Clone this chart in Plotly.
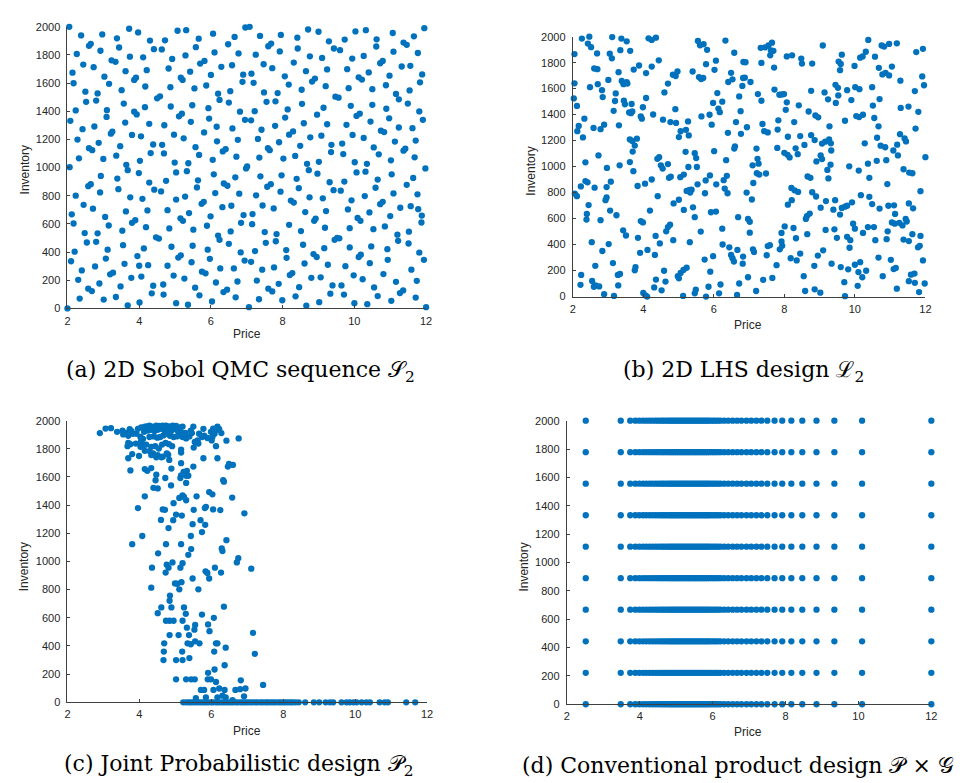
import plotly.graph_objects as go

# ---------------- data ----------------
sobol_pts = [
(2.05,2000),(2.38,1939),(2.97,1946),(3.72,1986),(3.97,1960),(3.38,1918),(2.26,1807),(2.60,1865),(2.65,1879),(2.92,1830),(3.44,1853),(4.30,1902),(4.41,1841),(4.63,1839),(4.72,1904),(5.07,1972),(5.31,1976),(5.66,1916),(5.58,1855),(6.06,1951),(6.48,1876),(6.66,1928),(6.77,1811),(6.10,1818),(5.29,1797),(4.92,1772),(3.74,1788),(4.11,1783),(3.23,1762),(3.34,1751),(2.44,1732),(2.73,1713),(2.14,1674),(2.17,1599),(3.03,1646),(3.16,1595),(3.62,1685),(3.86,1623),(3.91,1639),(4.21,1692),(4.17,1576),(4.50,1492),(4.58,1506),(4.82,1704),(4.87,1571),(5.16,1639),(5.21,1623),(5.42,1681),(5.54,1562),(5.70,1739),(5.82,1758),(5.87,1583),(6.00,1658),(6.29,1716),(6.59,1727),(6.90,1660),(6.88,1609),
(2.50,1539),(2.52,1467),(2.84,1527),(2.80,1476),(3.51,1550),(3.57,1455),(2.23,1406),(3.10,1408),(3.86,1397),(3.93,1378),(4.16,1429),(4.88,1434),(5.48,1443),(5.93,1422),(6.20,1525),(6.24,1481),(6.54,1543),(6.50,1462),(6.81,1397),(6.95,1339),
(2.08,1332),(3.09,1360),(3.61,1320),(4.28,1311),(5.11,1364),(5.19,1383),(5.24,1208),(5.44,1325),(5.95,1348),(6.16,1290),(6.60,1278),(2.42,1273),(2.75,1292),(2.28,1199),(2.87,1176),(3.21,1241),(3.25,1255),(3.47,1152),(3.80,1232),(4.05,1222),(4.39,1164),(4.64,1162),(4.70,1301),(4.97,1234),(5.37,1031),(5.57,1145),(5.81,1250),(6.17,1187),(6.33,1115),(6.41,1131),(6.75,1197),
(3.00,1062),(3.36,1085),(2.32,1066),(2.60,1138),(2.69,1124),(4.02,1048),(4.32,1103),(4.69,1101),(4.99,1036),(5.67,1090),(6.05,1055),(6.71,1078),(6.98,994),(2.06,1003),(2.93,941),(3.39,922),(3.68,982),(3.64,1020),(3.99,961),(4.28,894),(4.42,843),(4.61,831),(4.75,906),(5.03,966),(5.33,975),(5.61,859),(5.64,910),(6.08,952),(6.36,887),(6.46,871),(6.68,931),(7.01,1008),
(2.23,801),(2.58,868),(2.65,882),(2.91,824),(3.42,847),(3.75,789),(4.09,778),(4.79,698),(5.03,773),(5.28,794),(5.74,743),(5.80,757),(6.12,819),(6.32,719),(6.57,729),(6.79,815),
(2.12,668),(2.17,603),(2.45,736),(2.71,708),(3.05,650),(3.15,589),(3.63,689),(3.80,608),(3.89,626),(4.23,696),(4.19,577),(4.84,568),(5.15,640),(5.22,622),(5.39,677),(5.51,559),(5.89,587),(5.99,654),(6.20,517),(6.24,487),(6.55,547),(6.84,608),(6.91,663),
(2.20,403),(2.48,535),(2.54,468),(2.84,533),(2.80,473),(3.12,417),(3.53,552),(3.55,449),(3.95,372),(4.13,426),(4.47,505),(4.55,496),(4.90,438),(5.09,361),(5.16,377),(5.49,445),(5.91,417),(5.97,352),(6.50,459),(6.83,398),(6.94,340),
(2.10,335),(2.40,270),(2.77,298),(3.07,354),(3.59,317),(4.00,303),(4.25,307),(4.39,161),(4.79,303),(4.96,233),(5.26,212),(5.46,328),(5.56,147),(5.75,261),(5.85,249),(6.26,284),(6.64,284),(6.74,191),
(2.30,203),(2.58,140),(2.68,123),(2.89,177),(3.19,242),(3.27,254),(3.48,156),(3.78,217),(4.06,226),(4.35,107),(4.67,170),(5.68,93),(6.14,184),(6.35,116),(6.45,133),(6.69,79),
(2.34,70),(3.01,63),(3.35,81),(3.68,21),(4.01,42),(4.68,98),(5.03,37),(5.36,26),(6.03,49),(2.00,0),(7.06,9),
(6.96,1995),(7.08,2000),(7.37,1935),(7.95,1942),(8.41,1923),(8.71,1981),(9.00,1965),(9.29,1897),(9.43,1846),(9.60,1834),(9.73,1909),(10.03,1967),(10.32,1976),(10.62,1911),(10.61,1860),(11.07,1956),(11.37,1888),(11.46,1872),(11.66,1932),(11.95,1990),
(7.25,1802),(7.47,1734),(7.60,1862),(7.68,1881),(7.92,1825),(7.71,1706),(8.31,1746),(8.42,1846),(8.76,1790),(8.65,1685),(9.10,1779),(9.24,1697),(9.80,1699),(9.94,1774),(10.26,1793),(10.40,1676),(10.12,1641),(10.21,1625),(10.72,1741),(10.79,1758),(11.09,1823),(11.32,1718),(11.56,1723),(11.77,1814),(11.89,1662),
(7.13,1667),(7.19,1602),(8.06,1648),(8.17,1590),(8.53,1553),(8.82,1611),(8.90,1632),(9.20,1578),(9.84,1564),(10.50,1557),(10.88,1585),(10.98,1653),(11.16,1523),(11.24,1485),(11.54,1548),(11.83,1606),
(7.48,1534),(7.55,1467),(7.80,1471),(7.86,1529),(8.54,1453),(9.14,1425),(8.96,1376),(9.47,1504),(9.56,1497),(9.90,1439),(10.50,1446),(10.89,1418),(10.97,1350),(11.24,1285),(11.49,1455),(11.81,1399),(11.91,1339),
(7.22,1401),(7.12,1336),(7.79,1297),(8.14,1413),(8.07,1355),(8.18,1234),(8.29,1257),(8.59,1315),(9.24,1308),(9.78,1304),(10.06,1367),(10.15,1383),(10.45,1327),(10.74,1262),(10.83,1252),(11.13,1185),(11.62,1280),(11.71,1192),
(7.41,1269),(7.31,1204),(7.90,1180),(7.64,1124),(7.59,1138),(8.02,1064),(8.35,1083),(8.49,1155),(8.77,1215),(9.08,1227),(9.36,1162),(9.35,1110),(9.66,1171),(9.69,1096),(9.95,1232),(10.26,1211),(10.54,1143),(10.68,1094),(11.02,1052),(11.37,1120),(11.42,1134),(11.68,1073),
(7.35,1071),(7.38,938),(7.97,945),(8.39,920),(8.45,854),(8.68,1027),(8.73,982),(9.01,1041),(8.97,957),(9.31,896),(9.42,840),(9.62,836),(9.72,901),(10.01,1038),(10.06,966),(10.31,971),(10.35,1027),(10.65,915),(10.59,857),(11.04,952),(11.09,817),(11.46,878),(11.64,927),(11.76,810),(11.88,659),(11.87,610),(11.98,994),
(7.26,803),(7.44,731),(7.57,864),(7.67,882),(7.75,710),(7.94,829),(8.23,766),(8.31,752),(8.63,684),(8.75,789),(9.12,782),(9.21,691),(8.88,622),(8.92,638),(9.82,703),(9.92,768),(10.09,643),(10.17,622),(10.29,798),(10.42,682),(10.72,740),(10.79,757),(11.00,656),(11.28,715),(11.57,726),(11.78,705),
(7.16,670),(7.15,598),(7.50,542),(7.53,466),(7.83,528),(7.81,477),(8.18,594),(8.51,549),(8.57,452),(9.18,573),(9.16,428),(9.45,487),(9.52,501),(9.58,498),(9.87,570),(9.87,433),(10.12,365),(10.18,382),(10.43,321),(10.53,563),(10.47,440),(10.85,582),(10.92,421),(10.93,345),(11.20,524),(11.22,480),(11.52,545),(11.51,461),(11.81,396),(11.94,345),
(7.23,407),(7.12,331),(7.43,275),(7.76,291),(8.10,414),(8.11,359),(8.20,237),(8.27,251),(8.61,319),(8.86,386),(8.95,365),(8.80,217),(9.06,221),(9.26,310),(9.75,300),(9.98,235),(10.23,207),(10.81,244),(11.16,189),(11.27,109),(11.36,128),(11.59,275),(11.74,196),
(7.28,198),(7.60,140),(7.71,121),(7.89,175),(8.46,151),(8.36,86),(7.99,58),(7.34,65),(8.66,19),(9.02,44),(9.33,105),(9.39,163),(9.64,163),(9.71,98),(10.00,37),(10.36,30),(10.55,149),(10.65,88),(11.03,54),(11.71,77),(12.00,9),
]

lhs_pts = [
(2.05,1866),(2.05,1641),(2.03,1525),(2.12,1467),(2.17,1313),(2.13,1273),(2.29,1225),(2.33,1369),(2.26,1985),(2.47,2000),(2.43,1947),(2.52,1919),(2.69,1871),(2.49,1611),(2.61,1755),(2.70,1750),(2.71,1634),(2.83,1588),(2.85,1535),(2.59,1298),(2.79,1288),(2.89,1323),(3.12,1997),(3.05,1869),(3.11,1833),(3.01,1667),(3.22,1563),(3.20,1505),(3.30,1727),(3.16,1429),(3.31,1318),(3.38,1985),(3.53,1964),(3.35,1896),(3.63,1891),(3.39,1659),(3.44,1634),(3.53,1649),(3.55,1639),(3.45,1507),(3.48,1480),(3.67,1482),(3.60,1417),(3.69,1424),(3.65,1411),(3.73,1747),(3.88,1778),(4.08,1720),(4.24,1770),(4.15,1987),(4.24,1975),(4.36,1992),(4.44,1818),(4.08,1528),(3.99,1457),(3.93,1386),(3.96,1369),(4.28,1401),(4.60,1571),(4.70,1639),(4.56,1361),(4.77,1343),(4.84,1707),(4.92,1697),(4.97,1732),(4.91,1442),(4.93,1336),(5.06,1273),(5.01,1227),(5.21,1283),(5.27,1348),(5.29,1240),(5.40,1732),(5.55,1967),(5.61,1934),(5.71,1942),(5.81,1899),(5.78,1788),(5.58,1689),(5.70,1682),(5.64,1674),(5.65,1386),(5.88,1399),(5.94,1323),(5.98,1490),(6.06,1815),(6.02,1745),(6.10,1566),(6.13,1447),(6.17,1419),(6.24,1500),(6.33,1970),(6.40,1260),(6.41,1651),(6.53,1672),(6.49,1722),(6.58,1876),(6.63,1343),(6.76,1427),(6.77,1252),(6.60,1156),(6.58,1139),(6.72,1540),(6.84,1805),(6.83,1682),(6.81,1621),
(3.69,1197),(3.82,1215),(3.76,1162),(3.70,1116),(3.62,1035),(3.72,965),(3.84,851),(4.05,869),(4.40,1060),(4.45,1073),(4.50,1010),(4.55,985),(4.24,901),(4.41,773),(4.19,662),(3.93,581),(3.99,571),(3.85,452),(3.91,336),(4.12,359),(4.33,321),(4.47,409),(4.35,467),(4.70,535),(4.76,553),(4.65,502),(4.85,434),(4.73,914),(4.78,922),(4.70,1020),(4.86,717),(5.01,745),(5.05,919),(5.15,939),(5.28,997),(5.23,813),(5.31,821),(5.37,823),(5.33,800),(5.15,667),(5.41,687),(5.46,611),(5.32,419),(5.20,1114),(5.46,1103),(5.50,1066),(5.52,997),(5.54,864),(5.75,795),(5.77,894),(5.89,932),(6.01,1119),(6.07,864),(6.28,896),(6.37,929),(6.31,831),(6.39,795),(5.63,500),(5.92,649),(6.06,654),(6.24,523),(5.74,285),(5.98,311),(5.90,192),(6.25,401),(6.44,379),(6.49,321),(6.53,295),(6.57,270),(6.67,359),(6.83,308),(6.82,253),(6.35,1050),(6.69,611),(6.72,101),(6.66,13),(6.19,93),(6.15,25),(5.85,76),(5.78,0),(5.49,53),(5.46,25),(5.13,5),(5.23,222),(5.14,205),(5.06,182),(4.98,157),(5.01,141),(4.63,116),(4.59,199),(4.52,48),(4.36,131),(4.31,71),(4.06,10),(4.00,28),(4.11,0),(3.78,227),(3.76,202),(3.28,167),(3.29,86),(3.17,5),(2.89,18),(2.75,78),(2.65,86),(2.60,76),(2.55,121),(2.64,237),(2.54,419),(2.24,167),(2.22,91),(2.40,636),(2.39,593),(2.45,704),(2.79,588),(2.84,351),(3.02,404),(3.06,662),(3.24,626),(3.14,258),(3.34,174),(3.43,510),(3.51,470),(2.23,848),(2.36,889),(2.42,879),(2.62,838),(2.96,843),(3.08,884),(2.96,763),(2.93,742),(2.36,1033),(2.73,1086),(2.97,990),(3.33,1010),(2.06,793),(2.12,773),(3.62,1209),
(6.90,1803),(6.88,1684),(7.04,1651),(6.94,1303),(7.21,1139),(7.24,1060),(7.27,1023),(7.10,1010),(7.22,949),(7.29,939),(7.48,947),(7.12,874),(6.93,800),(7.08,747),(6.97,598),(7.02,576),(7.02,492),(7.11,364),(7.14,343),(6.97,149),(7.20,43),(7.33,1914),(7.45,1917),(7.55,1932),(7.65,1954),(7.35,1798),(7.60,1856),(7.62,1894),(7.69,1891),(7.71,1762),(7.25,1558),(7.35,1507),(7.72,1593),(7.86,1553),(7.93,1555),(7.99,1558),(8.07,1495),(8.04,1437),(7.38,1328),(7.43,1273),(7.53,1263),(7.83,1356),(7.81,1285),(8.10,1230),(8.28,1343),(8.41,1472),(7.80,1144),(8.00,1106),(8.09,1091),(8.15,1071),(8.32,1141),(8.38,1096),(8.45,1235),(8.57,1167),(8.76,1242),(8.86,1204),(8.07,1848),(8.22,1856),(8.48,1831),(8.50,1793),(8.79,1793),(8.76,1583),(8.69,1424),(8.88,1394),(8.96,1379),(9.28,1310),(9.07,1177),(9.16,1192),(9.27,1209),(9.32,1179),(9.33,1124),(9.03,1086),(9.07,1058),(8.91,1040),(9.22,975),(9.25,909),(9.31,1015),(8.66,924),(8.74,914),(8.20,836),(8.29,818),(8.39,805),(8.21,742),(8.10,707),(8.79,803),(8.90,770),(9.18,735),(9.03,684),(8.61,598),(8.64,619),(8.72,639),(9.39,669),(9.44,742),(9.58,631),(9.63,682),(9.72,692),(9.78,699),(9.92,725),(8.65,480),(8.26,528),(8.33,449),(8.01,540),(7.92,490),(7.92,424),(7.94,391),(7.87,364),(7.53,389),(7.59,396),(7.50,318),(7.78,242),(7.66,144),(7.40,129),(8.18,295),(8.35,278),(8.45,331),(8.55,157),(8.59,43),(8.85,237),(8.95,316),(9.10,356),(8.86,56),(9.02,30),(9.17,513),(9.42,518),(9.49,452),(9.34,253),(9.60,227),(9.70,111),(9.72,3),(9.81,210),(9.78,460),(9.87,434),(9.85,376),(9.95,561),(10.00,523),(10.23,490),(10.37,535),(10.54,535),(10.00,245),(10.10,189),(10.21,149),(10.15,265),(10.08,83),(10.32,199),(10.67,300),(10.79,157),(11.02,283),(11.10,212),(11.16,220),(11.19,61),(10.90,442),(10.93,502),(11.05,571),(11.13,561),(11.26,568),(11.35,548),(11.44,598),(11.47,578),(10.95,699),(11.11,702),(11.14,636),(10.41,768),(10.49,712),(10.70,677),(10.58,434),(11.38,439),(11.53,427),(11.63,480),(11.86,467),(11.79,379),(11.84,391),(11.93,278),(11.59,169),(11.69,177),(11.53,119),(11.70,106),(11.98,101),(11.82,35),(11.53,717),(11.65,679),(11.86,811),(12.00,1073),(11.54,954),(11.63,949),(11.38,980),(10.92,866),(11.09,1124),(11.22,1086),(11.20,1169),(11.41,1217),(11.45,1194),(11.28,1250),(11.72,1293),(11.80,1422),(11.52,1462),(11.30,1452),(11.96,1626),(11.91,1694),(11.70,1581),(11.74,1881),(11.93,1906),(11.29,1661),(11.05,1770),(10.97,1702),(10.87,1722),(10.78,1709),(10.83,1924),(10.76,1932),(10.97,1944),(11.19,1949),(10.68,1760),(10.38,1975),(10.31,1884),(10.15,1838),(10.22,1848),(10.57,1846),(10.49,1611),(10.70,1520),(10.67,1310),(10.55,1374),(10.63,1222),(10.73,1161),(10.86,1149),(10.89,1050),(10.62,1045),(10.37,1023),(10.41,914),(10.11,970),(10.17,780),(9.84,1002),(10.28,1179),(10.04,1389),(10.12,1381),(10.23,1399),(10.51,1470),(9.72,1353),(9.90,1512),(9.78,1588),(10.01,1611),(10.13,1596),(9.99,1775),(9.54,1808),(9.60,1790),(9.63,1861),(9.58,1742),(9.45,1629),(9.52,1606),(9.14,1571),(9.24,1518),(9.53,1548),(9.46,1490),(9.09,1932),
]

joint_pts = [
(2.90,1912),(3.06,1944),(3.21,1947),(3.38,1921),(3.53,1930),(3.62,1914),(3.73,1940),(3.78,1926),(3.55,1902),(3.69,1893),(3.82,1907),
(3.96,1942),(4.05,1953),(4.15,1958),(4.21,1960),(4.28,1965),(4.38,1958),(4.47,1965),(4.56,1963),(4.65,1965),(4.74,1965),(4.84,1960),(4.93,1965),(5.02,1963),(5.11,1953),(5.20,1958),
(3.92,1907),(4.03,1884),(4.13,1921),(4.24,1930),(4.33,1935),(4.42,1926),(4.51,1935),(4.61,1942),(4.70,1930),(4.79,1935),(4.88,1926),(4.97,1940),(5.07,1926),(5.16,1919),
(4.03,1837),(4.10,1870),(4.19,1830),(4.28,1884),(4.40,1888),(4.50,1879),(4.58,1884),(4.67,1895),(4.76,1907),(4.85,1893),(4.95,1884),(5.04,1888),(5.13,1895),
(4.33,1814),(4.44,1819),(4.54,1802),(4.63,1830),(4.73,1842),(4.82,1833),(4.91,1819),
(3.69,1842),(3.67,1819),(3.75,1833),(3.90,1837),(4.03,1814),(4.05,1860),(4.12,1826),
(5.20,1884),(5.30,1874),(5.39,1888),(5.46,1912),(5.50,1958),(5.43,1930),(5.28,1914),
(5.66,1907),(5.74,1884),(5.80,1893),(5.89,1877),(5.78,1942),(6.05,1944),(5.99,1921),(6.09,1907),(6.17,1958),(6.22,1940),(6.28,1912),(6.20,1935),
(5.64,1837),(5.51,1809),(5.62,1860),(5.54,1849),(6.03,1884),(6.01,1860),(6.13,1819),(6.42,1858),(6.76,1874),
(5.16,1795),(5.16,1774),
(4.15,1786),(4.28,1784),(4.38,1767),(4.51,1756),(4.65,1744),(4.76,1767),(4.80,1758),(4.61,1740),(4.33,1756),(4.47,1740),
(3.69,1733),(3.80,1763),(3.99,1749),(3.75,1647),(4.15,1656),(4.22,1644),(4.33,1663),
(4.83,1721),(5.16,1698),(5.50,1674),(5.78,1733),(6.17,1733),(6.49,1693),(6.60,1686),(6.46,1674),
(4.89,1660),(5.16,1612),(5.23,1637),(5.32,1644),(5.30,1609),(5.36,1609),(5.14,1593),
(4.47,1616),(4.45,1577),(4.39,1523),(4.51,1519),(4.72,1593),(4.88,1540),(5.30,1558),(6.33,1577),(6.35,1567),
(5.94,1493),(6.03,1477),(5.59,1463),(5.20,1470),(5.24,1458),(5.30,1435),(5.11,1451),(6.58,1454),
(3.96,1379),(4.15,1463),(4.95,1414),(5.18,1326),(5.02,1333),(4.94,1293),(4.60,1295),(4.65,1370),(4.71,1367),
(5.51,1367),(5.85,1388),(5.82,1379),(6.05,1370),(6.25,1365),(5.70,1293),(5.83,1260),(5.48,1265),(5.74,1209),(5.43,1181),(6.92,1342),
(3.80,1123),(4.08,1181),(4.81,1237),(4.74,1123),(5.16,1123),(4.52,1058),(5.44,1088),(6.29,1093),(6.31,1074),(6.42,1151),
(5.36,1047),(4.92,993),(4.81,956),(5.20,988),(4.76,977),(5.14,956),
(4.35,956),(4.73,921),(5.48,879),(5.89,919),(5.84,930),(5.94,879),(6.10,956),(6.27,921),(6.71,993),(6.75,1023),(7.11,949),
(4.99,844),(5.05,842),(5.17,853),(5.11,802),(5.64,802),(4.33,814),
(4.85,758),(4.84,721),(4.89,674),(4.61,674),(4.51,633),(5.24,674),(5.29,628),(5.74,623),(6.07,600),(6.35,679),
(4.74,579),(4.84,579),(4.95,579),(5.20,579),
(5.32,530),(5.55,549),(5.53,516),(5.38,477),(5.91,553),(5.95,505),(4.84,477),(5.09,477),
(4.69,419),(5.34,419),(5.43,412),(5.55,433),(5.67,419),(6.13,419),(6.17,419),(6.40,388),(7.16,493),(7.21,344),
(4.68,360),(5.19,360),(6.08,360),(4.67,300),(5.02,300),(5.20,300),(5.39,314),
(6.37,263),(5.91,209),(6.09,233),
(5.02,163),(5.30,163),(5.44,163),(5.54,163),(5.90,163),(5.99,163),(6.13,144),(6.82,156),(7.44,123),
(5.71,88),(5.80,88),(6.06,88),(6.22,98),(6.37,88),(6.67,88),(6.80,93),(6.95,98),
(5.57,30),(5.85,35),(6.17,35),(6.31,47),(6.40,35),(6.91,42),(6.59,16),
]
# prices of the joint-design points that sit at zero inventory
joint_zero_price = [5.22,5.30,5.37,5.43,5.50,5.57,5.64,5.71,5.78,5.85,5.91,5.99,6.05,6.13,6.19,6.26,6.33,6.40,6.47,6.54,6.60,6.68,6.74,6.82,6.88,6.95,7.02,7.09,7.16,7.23,7.29,7.37,7.43,7.51,7.57,7.64,7.71,7.78,7.86,7.92,7.99,8.06,8.13,8.20,8.26,8.34,8.43,8.61,8.85,9.00,9.18,9.30,9.39,9.62,9.76,9.85,9.95,10.04,10.18,10.31,10.41,10.68,10.82,10.91,11.42,11.67]

# product design: price levels x inventory levels
grid_price = [2.52,3.48,3.74,3.88,3.99,4.09,4.18,4.27,4.35,4.43,4.50,4.57,4.63,4.69,4.75,4.81,4.86,4.91,4.96,5.01,5.06,5.11,5.16,5.21,5.26,5.31,5.36,5.41,5.46,5.51,5.56,5.61,5.66,5.71,5.76,5.81,5.86,5.91,5.97,6.03,6.09,6.15,6.22,6.32,6.43,6.55,6.67,6.79,6.93,7.06,7.20,7.34,7.50,7.70,7.91,8.16,8.46,8.85,9.34,10.10,12.00]
grid_inventory = [0,222,444,667,889,1111,1333,1556,1778,2000]

captions = [
    "(a) 2D Sobol QMC sequence 𝒮<sub>2</sub>",
    "(b) 2D LHS design ℒ<sub>2</sub>",
    "(c) Joint Probabilistic design 𝒫<sub>2</sub>",
    "(d) Conventional product design 𝒫 × 𝒢",
]
x_ticks = [2, 4, 6, 8, 10, 12]
y_ticks = [0, 200, 400, 600, 800, 1000, 1200, 1400, 1600, 1800, 2000]

# ---------------- assemble ----------------
W, H = 967, 783
BLUE = "#0072BD"
AX = "#404040"
TXT = "#262626"
SANS = "Liberation Sans, Arial, sans-serif"
SERIF = "DejaVu Serif, serif"

joint_all = joint_pts + [(p, 0) for p in joint_zero_price]
grid_all = [(p, q) for q in grid_inventory for p in grid_price]

panels = [
    dict(pts=sobol_pts, px=(57, 419), py=(13, 299), inv=(14, 158), price=(238, 325), cap=(232, 363)),
    dict(pts=lhs_pts,   px=(567, 923), py=(23, 287), inv=(524, 160), price=(744, 316), cap=(739, 363)),
    dict(pts=joint_all, px=(57, 420), py=(413, 699), inv=(14, 561), price=(238, 728), cap=(230, 763)),
    dict(pts=grid_all,  px=(561, 929), py=(413, 701), inv=(518, 562), price=(744, 729), cap=(734, 763)),
]

fig = go.Figure()
annotations = []
for i, p in enumerate(panels, start=1):
    sfx = "" if i == 1 else str(i)
    xs = [a for a, b in p["pts"]]
    ys = [b for a, b in p["pts"]]
    fig.add_trace(go.Scatter(
        x=xs, y=ys, mode="markers", xaxis="x" + sfx, yaxis="y" + sfx,
        marker=dict(color=BLUE, size=6.3, line=dict(width=0)),
        cliponaxis=False, showlegend=False, hoverinfo="x+y"))
    common = dict(showgrid=False, zeroline=False, showline=True, linecolor=AX, linewidth=1,
                  ticks="inside", ticklen=3, tickcolor=AX, tickwidth=1, mirror=False,
                  tickfont=dict(family=SANS, size=11, color=TXT), fixedrange=True)
    fig.layout["xaxis" + sfx] = dict(common, domain=[p["px"][0] / W, p["px"][1] / W],
                                     range=[2, 12], tickvals=x_ticks, anchor="y" + sfx,
                                     ticklabelstandoff=2)
    fig.layout["yaxis" + sfx] = dict(common, domain=[1 - p["py"][1] / H, 1 - p["py"][0] / H],
                                     range=[0, 2000], tickvals=y_ticks, anchor="x" + sfx,
                                     ticklabelstandoff=4)
    annotations.append(dict(text="Price", x=p["price"][0] / W, y=1 - p["price"][1] / H,
                            xref="paper", yref="paper", showarrow=False,
                            xanchor="center", yanchor="middle",
                            font=dict(family=SANS, size=12, color=TXT)))
    annotations.append(dict(text="Inventory", x=p["inv"][0] / W, y=1 - p["inv"][1] / H,
                            xref="paper", yref="paper", showarrow=False, textangle=-90,
                            xanchor="center", yanchor="middle",
                            font=dict(family=SANS, size=12, color=TXT)))
    annotations.append(dict(text=captions[i - 1], x=p["cap"][0] / W, y=1 - p["cap"][1] / H,
                            xref="paper", yref="paper", showarrow=False,
                            xanchor="center", yanchor="middle",
                            font=dict(family=SERIF, size=22, color="#000000")))

fig.update_layout(width=W, height=H, margin=dict(l=0, r=0, t=0, b=0),
                  paper_bgcolor="white", plot_bgcolor="white",
                  annotations=annotations, showlegend=False)
fig.write_html("out.html")
